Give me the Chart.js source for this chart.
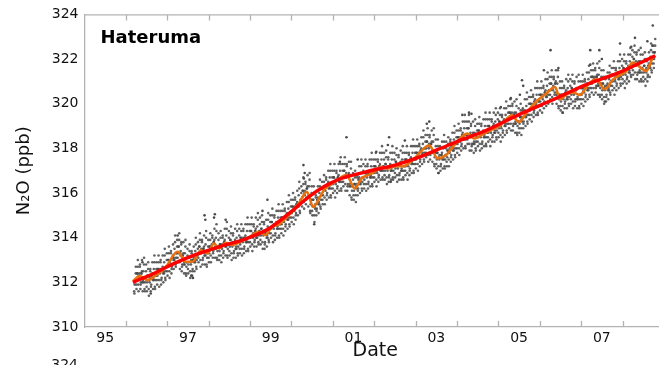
<!DOCTYPE html>
<html>
<head>
<meta charset="utf-8">
<script src="https://cdn.jsdelivr.net/npm/chart.js@4.4.1/dist/chart.umd.min.js"></script>
<style>
html,body{margin:0;padding:0;background:#fff;overflow:hidden;}
#wrap{position:relative;width:670px;height:365px;}
</style>
</head>
<body>
<div id="wrap"><canvas id="c"></canvas></div>
<script>
// ---- data ----
const stationName = "Hateruma";
const tickYears = [1995.5, 1997.5, 1999.5, 2001.5, 2003.5, 2005.5, 2007.5];
const tickLabels = ["95", "97", "99", "01", "03", "05", "07"];
const yearBoundaries = [1996,1997,1998,1999,2000,2001,2002,2003,2004,2005,2006,2007,2008];

const trendYears = [1996.17,1996.7,1997.17,1997.7,1998.3,1998.9,1999.45,1999.95,2000.4,2000.8,2001.2,2001.8,2002.5,2003.0,2003.5,2004.1,2004.7,2005.2,2005.6,2006.25,2006.6,2007.05,2007.45,2007.85,2008.3,2008.79];
const trendValues = [312.0,312.42,312.85,313.25,313.62,313.95,314.4,315.1,315.8,316.3,316.65,316.95,317.25,317.55,317.92,318.38,318.8,319.25,319.6,320.12,320.42,320.8,321.08,321.35,321.72,322.15];

const monthlyYears = [1996.17,1996.33,1996.53,1996.73,1996.95,1997.25,1997.45,1997.61,1997.81,1997.97,1998.13,1998.25,1998.41,1998.57,1998.8,1999.0,1999.21,1999.37,1999.53,1999.7,1999.85,2000.01,2000.2,2000.37,2000.53,2000.69,2000.81,2001.05,2001.33,2001.53,2001.69,2001.85,2002.0,2002.17,2002.33,2002.5,2002.7,2002.97,2003.33,2003.53,2003.73,2003.93,2004.25,2004.41,2004.65,2004.81,2005.05,2005.33,2005.49,2005.69,2005.93,2006.15,2006.37,2006.49,2006.65,2006.81,2006.97,2007.17,2007.37,2007.57,2007.77,2008.09,2008.25,2008.49,2008.57,2008.73,2008.79];
const monthlyValues = [312.05,312.28,312.10,312.33,312.65,313.37,312.92,312.92,313.44,313.30,313.74,313.52,313.77,313.67,313.85,314.05,314.26,314.12,314.49,314.6,314.85,315.15,315.6,316.05,315.38,315.83,316.20,316.5,316.80,316.20,316.65,316.80,316.95,317.17,317.10,317.2,317.2,317.55,318.14,317.55,317.69,318.14,318.66,318.44,318.66,318.81,319.04,319.48,319.18,319.62,320.12,320.45,320.75,320.20,320.42,320.50,320.39,320.87,321.09,320.65,321.09,321.46,321.84,321.54,321.46,322.06,322.15];

// individual measurements, batch A: [period start year, four readings within the period]
const sampleRows = [
[1996.20,311.6,311.9,312.1,312.4],[1996.25,311.9,312.1,312.4,312.7],[1996.30,311.9,312.3,312.4,312.7],[1996.35,311.7,312.0,312.4,312.5],[1996.40,312.0,312.1,312.5,312.8],
[1996.45,311.7,312.0,312.2,312.5],[1996.50,311.8,312.0,312.3,312.6],[1996.55,311.7,312.1,312.2,312.5],[1996.60,311.6,311.9,312.3,312.4],[1996.65,312.1,312.2,312.6,312.9],
[1996.70,311.8,312.1,312.3,312.6],[1996.75,312.1,312.3,312.6,312.9],[1996.80,312.1,312.5,312.6,312.9],[1996.85,311.9,312.2,312.6,312.7],[1996.90,312.4,312.5,312.9,313.2],
[1996.95,312.2,312.5,312.7,313.0],[1997.00,312.5,312.7,313.0,313.3],[1997.05,312.5,312.9,313.0,313.3],[1997.10,312.4,312.7,313.1,313.2],[1997.15,313.0,313.1,313.5,313.8],
[1997.20,312.8,313.1,313.3,313.6],[1997.25,313.1,313.3,313.6,313.9],[1997.30,312.9,313.3,313.4,313.7],[1997.35,312.5,312.8,313.2,313.3],[1997.40,312.8,312.9,313.3,313.6],
[1997.45,312.4,312.7,312.9,313.2],[1997.50,312.6,312.8,313.1,313.4],[1997.55,312.5,312.9,313.0,313.3],[1997.60,312.3,312.6,313.0,313.1],[1997.65,312.9,313.0,313.4,313.7],
[1997.70,312.7,313.0,313.2,313.5],[1997.75,313.1,313.3,313.6,313.9],[1997.80,313.0,313.4,313.5,313.8],[1997.85,312.8,313.1,313.5,313.6],[1997.90,313.2,313.3,313.7,314.0],
[1997.95,312.8,313.1,313.3,313.6],[1998.00,313.1,313.3,313.6,313.9],[1998.05,313.2,313.6,313.7,314.0],[1998.10,313.1,313.4,313.8,313.9],[1998.15,313.5,313.6,314.0,314.3],
[1998.20,313.1,313.4,313.6,313.9],[1998.25,313.2,313.4,313.7,314.0],[1998.30,313.2,313.6,313.7,314.0],[1998.35,313.1,313.4,313.8,313.9],[1998.40,313.6,313.7,314.1,314.4],
[1998.45,313.2,313.5,313.7,314.0],[1998.50,313.4,313.6,313.9,314.2],[1998.55,313.3,313.7,313.8,314.1],[1998.60,313.1,313.4,313.8,313.9],[1998.65,313.5,313.6,314.0,314.3],
[1998.70,313.3,313.6,313.8,314.1],[1998.75,313.5,313.7,314.0,314.3],[1998.80,313.5,313.9,314.0,314.3],[1998.85,313.3,313.6,314.0,314.1],[1998.90,313.8,313.9,314.3,314.6],
[1998.95,313.5,313.8,314.0,314.3],[1999.00,313.8,314.0,314.3,314.6],[1999.05,313.7,314.1,314.2,314.5],[1999.10,313.6,313.9,314.3,314.4],[1999.15,314.0,314.1,314.5,314.8],
[1999.20,313.8,314.1,314.3,314.6],[1999.25,313.9,314.1,314.4,314.7],[1999.30,313.8,314.2,314.3,314.6],[1999.35,313.5,313.8,314.2,314.3],[1999.40,314.0,314.1,314.5,314.8],
[1999.45,313.9,314.2,314.4,314.7],[1999.50,314.2,314.4,314.7,315.0],[1999.55,314.1,314.5,314.6,314.9],[1999.60,313.9,314.2,314.6,314.7],[1999.65,314.4,314.5,314.9,315.2],
[1999.70,314.1,314.4,314.6,314.9],[1999.75,314.4,314.6,314.9,315.2],[1999.80,314.4,314.8,314.9,315.2],[1999.85,314.3,314.6,315.0,315.1],[1999.90,314.8,314.9,315.3,315.6],
[1999.95,314.6,314.9,315.1,315.4],[2000.00,314.9,315.1,315.4,315.7],[2000.05,314.9,315.3,315.4,315.7],[2000.10,314.8,315.1,315.5,315.6],[2000.15,315.4,315.5,315.9,316.2],
[2000.20,315.2,315.5,315.7,316.0],[2000.25,315.6,315.8,316.1,316.4],[2000.30,315.6,316.0,316.1,316.4],[2000.35,315.5,315.8,316.2,316.3],[2000.40,315.8,315.9,316.3,316.6],
[2000.45,315.2,315.5,315.7,316.0],[2000.50,315.2,315.4,315.7,316.0],[2000.55,315.0,315.4,315.5,315.8],[2000.60,315.0,315.3,315.7,315.8],[2000.65,315.5,315.6,316.0,316.3],
[2000.70,315.4,315.7,315.9,316.2],[2000.75,315.7,315.9,316.2,316.5],[2000.80,315.8,316.2,316.3,316.6],[2000.85,315.7,316.0,316.4,316.5],[2000.90,316.2,316.3,316.7,317.0],
[2000.95,315.9,316.2,316.4,316.7],[2001.00,316.2,316.4,316.7,317.0],[2001.05,316.1,316.5,316.6,316.9],[2001.10,316.0,316.3,316.7,316.8],[2001.15,316.5,316.6,317.0,317.3],
[2001.20,316.2,316.5,316.7,317.0],[2001.25,316.5,316.7,317.0,317.3],[2001.30,316.4,316.8,316.9,317.2],[2001.35,316.1,316.4,316.8,316.9],[2001.40,316.3,316.4,316.8,317.1],
[2001.45,315.8,316.1,316.3,316.6],[2001.50,315.9,316.1,316.4,316.7],[2001.55,315.9,316.3,316.4,316.7],[2001.60,315.9,316.2,316.6,316.7],[2001.65,316.4,316.5,316.9,317.2],
[2001.70,316.2,316.5,316.7,317.0],[2001.75,316.4,316.6,316.9,317.2],[2001.80,316.4,316.8,316.9,317.2],[2001.85,316.2,316.5,316.9,317.0],[2001.90,316.7,316.8,317.2,317.5],
[2001.95,316.4,316.7,316.9,317.2],[2002.00,316.7,316.9,317.2,317.5],[2002.05,316.6,317.0,317.1,317.4],[2002.10,316.5,316.8,317.2,317.3],[2002.15,317.0,317.1,317.5,317.8],
[2002.20,316.7,317.0,317.2,317.5],[2002.25,316.8,317.0,317.3,317.6],[2002.30,316.7,317.1,317.2,317.5],[2002.35,316.5,316.8,317.2,317.3],[2002.40,317.0,317.1,317.5,317.8],
[2002.45,316.7,317.0,317.2,317.5],[2002.50,316.9,317.1,317.4,317.7],[2002.55,316.8,317.2,317.3,317.6],[2002.60,316.6,316.9,317.3,317.4],[2002.65,317.0,317.1,317.5,317.8],
[2002.70,316.7,317.0,317.2,317.5],[2002.75,317.0,317.2,317.5,317.8],[2002.80,316.9,317.3,317.4,317.7],[2002.85,316.8,317.1,317.5,317.6],[2002.90,317.3,317.4,317.8,318.1],
[2002.95,317.0,317.3,317.5,317.8],[2003.00,317.3,317.5,317.8,318.1],[2003.05,317.3,317.7,317.8,318.1],[2003.10,317.2,317.5,317.9,318.0],[2003.15,317.7,317.8,318.2,318.5],
[2003.20,317.5,317.8,318.0,318.3],[2003.25,317.8,318.0,318.3,318.6],[2003.30,317.7,318.1,318.2,318.5],[2003.35,317.5,317.8,318.2,318.3],[2003.40,317.8,317.9,318.3,318.6],
[2003.45,317.3,317.6,317.8,318.1],[2003.50,317.3,317.5,317.8,318.1],[2003.55,317.2,317.6,317.7,318.0],[2003.60,317.0,317.3,317.7,317.8],[2003.65,317.5,317.6,318.0,318.3],
[2003.70,317.2,317.5,317.7,318.0],[2003.75,317.4,317.6,317.9,318.2],[2003.80,317.5,317.9,318.0,318.3],[2003.85,317.4,317.7,318.1,318.2],[2003.90,317.9,318.0,318.4,318.7],
[2003.95,317.7,318.0,318.2,318.5],[2004.00,318.0,318.2,318.5,318.8],[2004.05,318.0,318.4,318.5,318.8],[2004.10,317.9,318.2,318.6,318.7],[2004.15,318.4,318.5,318.9,319.2],
[2004.20,318.1,318.4,318.6,318.9],[2004.25,318.4,318.6,318.9,319.2],[2004.30,318.2,318.6,318.7,319.0],[2004.35,317.9,318.2,318.6,318.7],[2004.40,318.2,318.3,318.7,319.0],
[2004.45,318.0,318.3,318.5,318.8],[2004.50,318.3,318.5,318.8,319.1],[2004.55,318.2,318.6,318.7,319.0],[2004.60,318.0,318.3,318.7,318.8],[2004.65,318.5,318.6,319.0,319.3],
[2004.70,318.2,318.5,318.7,319.0],[2004.75,318.5,318.7,319.0,319.3],[2004.80,318.4,318.8,318.9,319.2],[2004.85,318.3,318.6,319.0,319.1],[2004.90,318.7,318.8,319.2,319.5],
[2004.95,318.5,318.8,319.0,319.3],[2005.00,318.7,318.9,319.2,319.5],[2005.05,318.6,319.0,319.1,319.4],[2005.10,318.5,318.8,319.2,319.3],[2005.15,319.0,319.1,319.5,319.8],
[2005.20,318.8,319.1,319.3,319.6],[2005.25,319.1,319.3,319.6,319.9],[2005.30,319.1,319.5,319.6,319.9],[2005.35,318.8,319.1,319.5,319.6],[2005.40,319.1,319.2,319.6,319.9],
[2005.45,318.7,319.0,319.2,319.5],[2005.50,318.9,319.1,319.4,319.7],[2005.55,318.9,319.3,319.4,319.7],[2005.60,318.9,319.2,319.6,319.7],[2005.65,319.4,319.5,319.9,320.2],
[2005.70,319.2,319.5,319.7,320.0],[2005.75,319.5,319.7,320.0,320.3],[2005.80,319.5,319.9,320.0,320.3],[2005.85,319.4,319.7,320.1,320.2],[2005.90,319.9,320.0,320.4,320.7],
[2005.95,319.6,319.9,320.1,320.4],[2006.00,319.9,320.1,320.4,320.7],[2006.05,319.9,320.3,320.4,320.7],[2006.10,319.8,320.1,320.5,320.6],[2006.15,320.3,320.4,320.8,321.1],
[2006.20,320.1,320.4,320.6,320.9],[2006.25,320.4,320.6,320.9,321.2],[2006.30,320.3,320.7,320.8,321.1],[2006.35,320.2,320.5,320.9,321.0],[2006.40,320.4,320.5,320.9,321.2],
[2006.45,319.9,320.2,320.4,320.7],[2006.50,319.9,320.1,320.4,320.7],[2006.55,319.9,320.3,320.4,320.7],[2006.60,319.8,320.1,320.5,320.6],[2006.65,320.2,320.3,320.7,321.0],
[2006.70,320.0,320.3,320.5,320.8],[2006.75,320.2,320.4,320.7,321.0],[2006.80,320.1,320.5,320.6,320.9],[2006.85,319.9,320.2,320.6,320.7],[2006.90,320.2,320.3,320.7,321.0],
[2006.95,319.9,320.2,320.4,320.7],[2007.00,320.2,320.4,320.7,321.0],[2007.05,320.2,320.6,320.7,321.0],[2007.10,320.1,320.4,320.8,320.9],[2007.15,320.6,320.7,321.1,321.4],
[2007.20,320.4,320.7,320.9,321.2],[2007.25,320.7,320.9,321.2,321.5],[2007.30,320.7,321.1,321.2,321.5],[2007.35,320.5,320.8,321.2,321.3],[2007.40,320.8,320.9,321.3,321.6],
[2007.45,320.4,320.7,320.9,321.2],[2007.50,320.4,320.6,320.9,321.2],[2007.55,320.3,320.7,320.8,321.1],[2007.60,320.1,320.4,320.8,320.9],[2007.65,320.6,320.7,321.1,321.4],
[2007.70,320.5,320.8,321.0,321.3],[2007.75,320.8,321.0,321.3,321.6],[2007.80,320.7,321.1,321.2,321.5],[2007.85,320.6,320.9,321.3,321.4],[2007.90,321.1,321.2,321.6,321.9],
[2007.95,320.9,321.2,321.4,321.7],[2008.00,321.1,321.3,321.6,321.9],[2008.05,321.0,321.4,321.5,321.8],[2008.10,320.9,321.2,321.6,321.7],[2008.15,321.4,321.5,321.9,322.2],
[2008.20,321.3,321.6,321.8,322.1],[2008.25,321.5,321.7,322.0,322.3],[2008.30,321.4,321.8,321.9,322.2],[2008.35,321.1,321.4,321.8,321.9],[2008.40,321.4,321.5,321.9,322.2],
[2008.45,321.1,321.4,321.6,321.9],[2008.50,321.2,321.4,321.7,322.0],[2008.55,321.1,321.5,321.6,321.9],[2008.60,321.0,321.3,321.7,321.8],[2008.65,321.6,321.7,322.1,322.4],
[2008.70,321.5,321.8,322.0,322.3],[2008.75,321.8,322.0,322.3,322.6]
];

// individual measurements, batch B (readings taken between those of batch A): [period start year, three readings]
const sampleRowsB = [
[1996.20,311.5,312.1,312.7],[1996.25,311.7,312.4,313.0],[1996.30,311.6,312.2,312.8],[1996.35,311.9,312.4,313.0],[1996.40,311.6,312.0,313.1],
[1996.45,311.6,312.2,312.8],[1996.50,311.6,312.3,312.9],[1996.55,311.4,312.0,312.6],[1996.60,311.8,312.3,312.9],[1996.65,311.7,312.1,313.2],
[1996.70,311.7,312.3,312.9],[1996.75,311.9,312.6,313.2],[1996.80,311.8,312.4,313.0],[1996.85,312.1,312.6,313.2],[1996.90,312.0,312.4,313.5],
[1996.95,312.1,312.7,313.3],[1997.00,312.3,313.0,313.6],[1997.05,312.2,312.8,313.4],[1997.10,312.6,313.1,313.7],[1997.15,312.6,313.0,314.1],
[1997.20,312.7,313.3,313.9],[1997.25,312.9,313.6,314.2],[1997.30,312.6,313.2,313.8],[1997.35,312.7,313.2,313.8],[1997.40,312.4,312.8,313.9],
[1997.45,312.3,312.9,313.5],[1997.50,312.4,313.1,313.7],[1997.55,312.2,312.8,313.4],[1997.60,312.5,313.0,313.6],[1997.65,312.5,312.9,314.0],
[1997.70,312.6,313.2,313.8],[1997.75,312.9,313.6,314.2],[1997.80,312.7,313.3,313.9],[1997.85,313.0,313.5,314.1],[1997.90,312.8,313.2,314.3],
[1997.95,312.7,313.3,313.9],[1998.00,312.9,313.6,314.2],[1998.05,312.9,313.5,314.1],[1998.10,313.3,313.8,314.4],[1998.15,313.1,313.5,314.6],
[1998.20,313.0,313.6,314.2],[1998.25,313.0,313.7,314.3],[1998.30,312.9,313.5,314.1],[1998.35,313.3,313.8,314.4],[1998.40,313.2,313.6,314.7],
[1998.45,313.1,313.7,314.3],[1998.50,313.2,313.9,314.5],[1998.55,313.0,313.6,314.2],[1998.60,313.3,313.8,314.4],[1998.65,313.1,313.5,314.6],
[1998.70,313.2,313.8,314.4],[1998.75,313.3,314.0,314.6],[1998.80,313.2,313.8,314.4],[1998.85,313.5,314.0,314.6],[1998.90,313.4,313.8,314.9],
[1998.95,313.4,314.0,314.6],[1999.00,313.6,314.3,314.9],[1999.05,313.4,314.0,314.6],[1999.10,313.8,314.3,314.9],[1999.15,313.6,314.0,315.1],
[1999.20,313.7,314.3,314.9],[1999.25,313.7,314.4,315.0],[1999.30,313.5,314.1,314.7],[1999.35,313.7,314.2,314.8],[1999.40,313.6,314.0,315.1],
[1999.45,313.8,314.4,315.0],[1999.50,314.0,314.7,315.3],[1999.55,313.8,314.4,315.0],[1999.60,314.1,314.6,315.2],[1999.65,314.0,314.4,315.5],
[1999.70,314.0,314.6,315.2],[1999.75,314.2,314.9,315.5],[1999.80,314.1,314.7,315.3],[1999.85,314.5,315.0,315.6],[1999.90,314.4,314.8,315.9],
[1999.95,314.5,315.1,315.7],[2000.00,314.7,315.4,316.0],[2000.05,314.6,315.2,315.8],[2000.10,315.0,315.5,316.1],[2000.15,315.0,315.4,316.5],
[2000.20,315.1,315.7,316.3],[2000.25,315.4,316.1,316.7],[2000.30,315.3,315.9,316.5],[2000.35,315.7,316.2,316.8],[2000.40,315.4,315.8,316.9],
[2000.45,315.1,315.7,316.3],[2000.50,315.0,315.7,316.3],[2000.55,314.7,315.3,315.9],[2000.60,315.2,315.7,316.3],[2000.65,315.1,315.5,316.6],
[2000.70,315.3,315.9,316.5],[2000.75,315.5,316.2,316.8],[2000.80,315.5,316.1,316.7],[2000.85,315.9,316.4,317.0],[2000.90,315.8,316.2,317.3],
[2000.95,315.8,316.4,317.0],[2001.00,316.0,316.7,317.3],[2001.05,315.8,316.4,317.0],[2001.10,316.2,316.7,317.3],[2001.15,316.1,316.5,317.6],
[2001.20,316.1,316.7,317.3],[2001.25,316.3,317.0,317.6],[2001.30,316.1,316.7,317.3],[2001.35,316.3,316.8,317.4],[2001.40,315.9,316.3,317.4],
[2001.45,315.7,316.3,316.9],[2001.50,315.7,316.4,317.0],[2001.55,315.6,316.2,316.8],[2001.60,316.1,316.6,317.2],[2001.65,316.0,316.4,317.5],
[2001.70,316.1,316.7,317.3],[2001.75,316.2,316.9,317.5],[2001.80,316.1,316.7,317.3],[2001.85,316.4,316.9,317.5],[2001.90,316.3,316.7,317.8],
[2001.95,316.3,316.9,317.5],[2002.00,316.5,317.2,317.8],[2002.05,316.3,316.9,317.5],[2002.10,316.7,317.2,317.8],[2002.15,316.6,317.0,318.1],
[2002.20,316.6,317.2,317.8],[2002.25,316.6,317.3,317.9],[2002.30,316.4,317.0,317.6],[2002.35,316.7,317.2,317.8],[2002.40,316.6,317.0,318.1],
[2002.45,316.6,317.2,317.8],[2002.50,316.7,317.4,318.0],[2002.55,316.5,317.1,317.7],[2002.60,316.8,317.3,317.9],[2002.65,316.6,317.0,318.1],
[2002.70,316.6,317.2,317.8],[2002.75,316.8,317.5,318.1],[2002.80,316.6,317.2,317.8],[2002.85,317.0,317.5,318.1],[2002.90,316.9,317.3,318.4],
[2002.95,316.9,317.5,318.1],[2003.00,317.1,317.8,318.4],[2003.05,317.0,317.6,318.2],[2003.10,317.4,317.9,318.5],[2003.15,317.3,317.7,318.8],
[2003.20,317.4,318.0,318.6],[2003.25,317.6,318.3,318.9],[2003.30,317.4,318.0,318.6],[2003.35,317.7,318.2,318.8],[2003.40,317.4,317.8,318.9],
[2003.45,317.2,317.8,318.4],[2003.50,317.1,317.8,318.4],[2003.55,316.9,317.5,318.1],[2003.60,317.2,317.7,318.3],[2003.65,317.1,317.5,318.6],
[2003.70,317.1,317.7,318.3],[2003.75,317.2,317.9,318.5],[2003.80,317.2,317.8,318.4],[2003.85,317.6,318.1,318.7],[2003.90,317.5,317.9,319.0],
[2003.95,317.6,318.2,318.8],[2004.00,317.8,318.5,319.1],[2004.05,317.7,318.3,318.9],[2004.10,318.1,318.6,319.2],[2004.15,318.0,318.4,319.5],
[2004.20,318.0,318.6,319.2],[2004.25,318.2,318.9,319.5],[2004.30,317.9,318.5,319.1],[2004.35,318.1,318.6,319.2],[2004.40,317.8,318.2,319.3],
[2004.45,317.9,318.5,319.1],[2004.50,318.1,318.8,319.4],[2004.55,317.9,318.5,319.1],[2004.60,318.2,318.7,319.3],[2004.65,318.1,318.5,319.6],
[2004.70,318.1,318.7,319.3],[2004.75,318.3,319.0,319.6],[2004.80,318.1,318.7,319.3],[2004.85,318.5,319.0,319.6],[2004.90,318.3,318.7,319.8],
[2004.95,318.4,319.0,319.6],[2005.00,318.5,319.2,319.8],[2005.05,318.3,318.9,319.5],[2005.10,318.7,319.2,319.8],[2005.15,318.6,319.0,320.1],
[2005.20,318.7,319.3,319.9],[2005.25,318.9,319.6,320.2],[2005.30,318.8,319.4,320.0],[2005.35,319.0,319.5,320.1],[2005.40,318.7,319.1,320.2],
[2005.45,318.6,319.2,319.8],[2005.50,318.7,319.4,320.0],[2005.55,318.6,319.2,319.8],[2005.60,319.1,319.6,320.2],[2005.65,319.0,319.4,320.5],
[2005.70,319.1,319.7,320.3],[2005.75,319.3,320.0,320.6],[2005.80,319.2,319.8,320.4],[2005.85,319.6,320.1,320.7],[2005.90,319.5,319.9,321.0],
[2005.95,319.5,320.1,320.7],[2006.00,319.7,320.4,321.0],[2006.05,319.6,320.2,320.8],[2006.10,320.0,320.5,321.1],[2006.15,319.9,320.3,321.4],
[2006.20,320.0,320.6,321.2],[2006.25,320.2,320.9,321.5],[2006.30,320.0,320.6,321.2],[2006.35,320.4,320.9,321.5],[2006.40,320.0,320.4,321.5],
[2006.45,319.8,320.4,321.0],[2006.50,319.7,320.4,321.0],[2006.55,319.6,320.2,320.8],[2006.60,320.0,320.5,321.1],[2006.65,319.8,320.2,321.3],
[2006.70,319.9,320.5,321.1],[2006.75,320.0,320.7,321.3],[2006.80,319.8,320.4,321.0],[2006.85,320.1,320.6,321.2],[2006.90,319.8,320.2,321.3],
[2006.95,319.8,320.4,321.0],[2007.00,320.0,320.7,321.3],[2007.05,319.9,320.5,321.1],[2007.10,320.3,320.8,321.4],[2007.15,320.2,320.6,321.7],
[2007.20,320.3,320.9,321.5],[2007.25,320.5,321.2,321.8],[2007.30,320.4,321.0,321.6],[2007.35,320.7,321.2,321.8],[2007.40,320.4,320.8,321.9],
[2007.45,320.3,320.9,321.5],[2007.50,320.2,320.9,321.5],[2007.55,320.0,320.6,321.2],[2007.60,320.3,320.8,321.4],[2007.65,320.2,320.6,321.7],
[2007.70,320.4,321.0,321.6],[2007.75,320.6,321.3,321.9],[2007.80,320.4,321.0,321.6],[2007.85,320.8,321.3,321.9],[2007.90,320.7,321.1,322.2],
[2007.95,320.8,321.4,322.0],[2008.00,320.9,321.6,322.2],[2008.05,320.7,321.3,321.9],[2008.10,321.1,321.6,322.2],[2008.15,321.0,321.4,322.5],
[2008.20,321.2,321.8,322.4],[2008.25,321.3,322.0,322.6],[2008.30,321.1,321.7,322.3],[2008.35,321.3,321.8,322.4],[2008.40,321.0,321.4,322.5],
[2008.45,321.0,321.6,322.2],[2008.50,321.0,321.7,322.3],[2008.55,320.8,321.4,322.0],[2008.60,321.2,321.7,322.3],[2008.65,321.2,321.6,322.7],
[2008.70,321.4,322.0,322.6],[2008.75,321.6,322.3,322.9]
];

// isolated high / low readings
const spikeYears = [1996.40,1996.60,1997.25,1997.58,1997.62,1997.90,1997.92,1998.13,1998.15,1998.41,1999.30,1999.42,2000.29,2000.30,2000.32,2000.55,2001.17,2001.33,2001.60,2002.05,2002.33,2002.36,2002.40,2002.74,2003.27,2003.33,2003.55,2004.13,2004.29,2004.35,2005.06,2005.30,2005.52,2005.57,2005.60,2006.10,2006.26,2006.45,2006.55,2007.22,2007.22,2007.44,2007.50,2007.57,2007.94,2008.21,2008.30,2008.60,2008.72,2008.73];
const spikeValues = [312.9,311.5,314.1,312.3,312.2,315.0,314.8,314.9,315.05,314.8,315.2,315.7,317.25,316.65,316.9,314.6,317.4,318.5,317.5,317.85,318.15,318.5,316.5,318.35,319.1,319.2,316.9,319.5,319.6,319.55,319.85,320.25,320.4,321.05,320.8,321.5,322.4,321.6,319.6,321.75,322.4,322.4,322.0,320.1,322.7,322.55,322.95,322.8,322.6,323.5];

// ---- build datasets ----
const trendData = trendYears.map((x, i) => ({x, y: trendValues[i]}));
const monthlyData = monthlyYears.map((x, i) => ({x, y: monthlyValues[i]}));
const sampleData = [];
sampleRows.forEach(r => {
  for (let k = 1; k < r.length; k++) sampleData.push({x: r[0] + (k - 1) * 0.0125, y: r[k]});
});
sampleRowsB.forEach(r => {
  for (let k = 1; k < r.length; k++) sampleData.push({x: r[0] + 0.006 + (k - 1) * 0.0167, y: r[k]});
});
const spikeData = spikeYears.map((x, i) => ({x, y: spikeValues[i]}));

const AXIS_GRAY = '#b3b3b3';
const FONT = '"DejaVu Sans", "Liberation Sans", Arial, sans-serif';

const framePlugin = {
  id: 'frame',
  afterDatasetsDraw(chart) {
    const {ctx, chartArea: a, scales: {x}} = chart;
    ctx.save();
    ctx.strokeStyle = AXIS_GRAY;
    ctx.lineWidth = 1.3;
    ctx.beginPath();
    ctx.moveTo(a.left, a.top + 0.5);
    ctx.lineTo(a.right, a.top + 0.5);
    yearBoundaries.forEach(yr => {
      const px = Math.round(x.getPixelForValue(yr)) + 0.5;
      ctx.moveTo(px, a.bottom);
      ctx.lineTo(px, a.bottom - 6);
      ctx.moveTo(px, a.top);
      ctx.lineTo(px, a.top + 6);
    });
    ctx.stroke();
    ctx.fillStyle = '#000';
    ctx.font = 'bold 18px ' + FONT;
    ctx.textBaseline = 'alphabetic';
    ctx.textAlign = 'left';
    ctx.fillText(stationName, a.left + 16, a.top + 29);
    ctx.restore();
  },
  afterDraw(chart) {
    const {ctx} = chart;
    ctx.save();
    ctx.fillStyle = '#111';
    ctx.font = '14px ' + FONT;
    ctx.textAlign = 'right';
    ctx.textBaseline = 'alphabetic';
    ctx.fillText('324', 78, 368.5);
    ctx.restore();
  }
};

new Chart(document.getElementById('c'), {
  type: 'scatter',
  data: {
    datasets: [
      {label: 'trend', data: trendData, showLine: true, borderColor: '#ff0000', borderWidth: 3.4,
       pointRadius: 0, cubicInterpolationMode: 'monotone'},
      {label: 'monthly', data: monthlyData, showLine: true, borderColor: '#e8710f', borderWidth: 2.6,
       pointRadius: 0, cubicInterpolationMode: 'monotone'},
      {label: 'spikes', data: spikeData, pointRadius: 1.3, pointBorderWidth: 0,
       backgroundColor: '#4a4a4a'},
      {label: 'samples', data: sampleData, pointRadius: 1.3, pointBorderWidth: 0,
       backgroundColor: 'rgba(70,70,70,0.85)'}
    ]
  },
  plugins: [framePlugin],
  options: {
    responsive: true,
    maintainAspectRatio: false,
    animation: false,
    events: [],
    layout: {padding: {top: 14, right: 0, left: 0, bottom: 0}},
    plugins: {legend: {display: false}, tooltip: {enabled: false}},
    scales: {
      x: {
        type: 'linear', min: 1995, max: 2009.05,
        grid: {display: false, drawTicks: false},
        border: {display: true, color: AXIS_GRAY, width: 1.3},
        afterBuildTicks: s => { s.ticks = tickYears.map(v => ({value: v})); },
        afterFit: s => { s.height = 38; },
        ticks: {
          autoSkip: false, maxRotation: 0, padding: 3, color: '#111',
          font: {family: FONT, size: 14},
          callback: (v, i) => tickLabels[i]
        },
        title: {display: true, text: 'Date', color: '#111', font: {family: FONT, size: 19},
                padding: {top: 0, bottom: 3}}
      },
      y: {
        min: 310, max: 324,
        grid: {display: false, drawTicks: false},
        border: {display: true, color: AXIS_GRAY, width: 1.3},
        afterFit: s => { s.width = 84.5; },
        ticks: {stepSize: 2, padding: 6, color: '#111', font: {family: FONT, size: 14}},
        title: {display: true, text: 'N\u2082O (ppb)', color: '#111', font: {family: FONT, size: 18},
                padding: {top: 14, bottom: 0}}
      }
    }
  }
});
</script>
</body>
</html>
